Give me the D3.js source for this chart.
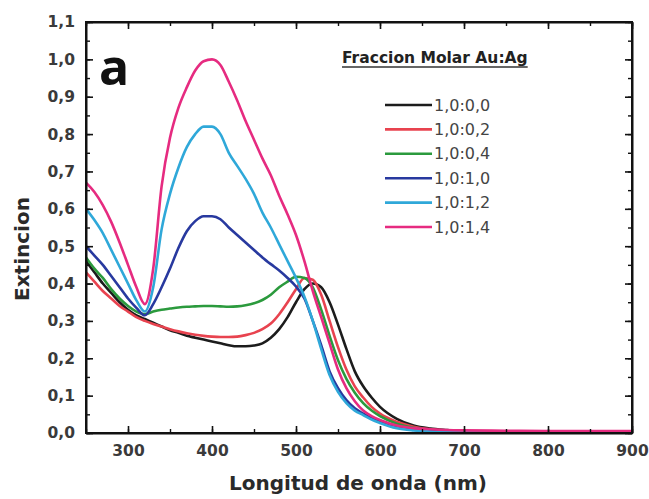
<!DOCTYPE html>
<html>
<head>
<meta charset="utf-8">
<script src="https://cdn.jsdelivr.net/npm/d3@7/dist/d3.min.js"></script>
<style>
  html, body { margin: 0; padding: 0; background: #fff; }
  svg { display: block; }
</style>
</head>
<body>
<svg id="chart" width="649" height="499"></svg>
<script>
// Wavelength grid (nm) shared by all spectra
const wavelength = [250, 260, 270, 280, 290, 300, 310, 320, 330, 340, 350, 360, 370, 380, 390, 400,
  410, 420, 430, 440, 450, 460, 470, 480, 490, 500, 510, 520, 530, 540, 550, 560, 570, 580, 590,
  600, 620, 640, 660, 680, 700, 750, 800, 850, 900];

// Extinction spectra for each Au:Ag molar fraction
const ext_1000 = [0.46, 0.43, 0.40, 0.375, 0.35, 0.33, 0.315, 0.305, 0.295, 0.285, 0.275, 0.268, 0.26, 0.255, 0.25, 0.245,
  0.24, 0.235, 0.232, 0.232, 0.234, 0.24, 0.255, 0.278, 0.31, 0.35, 0.385, 0.40, 0.39, 0.35, 0.29, 0.225, 0.165, 0.125, 0.095,
  0.07, 0.038, 0.02, 0.012, 0.008, 0.005, 0.003, 0.002, 0.002, 0.002];
const ext_1002 = [0.43, 0.405, 0.38, 0.36, 0.34, 0.325, 0.31, 0.30, 0.292, 0.285, 0.278, 0.272, 0.267, 0.263, 0.26, 0.258,
  0.257, 0.257, 0.258, 0.262, 0.268, 0.278, 0.293, 0.318, 0.35, 0.385, 0.415, 0.41, 0.37, 0.30, 0.23, 0.17, 0.125, 0.095, 0.07,
  0.052, 0.03, 0.017, 0.01, 0.007, 0.005, 0.003, 0.003, 0.003, 0.003];
const ext_1004 = [0.47, 0.44, 0.415, 0.385, 0.36, 0.34, 0.325, 0.318, 0.325, 0.33, 0.333, 0.336, 0.338, 0.339, 0.34, 0.34,
  0.339, 0.338, 0.339, 0.342, 0.347, 0.356, 0.37, 0.39, 0.405, 0.418, 0.415, 0.39, 0.33, 0.26, 0.195, 0.145, 0.108, 0.08, 0.06,
  0.045, 0.025, 0.014, 0.008, 0.005, 0.004, 0.003, 0.003, 0.003, 0.003];
const ext_1010 = [0.50, 0.475, 0.45, 0.42, 0.39, 0.36, 0.335, 0.315, 0.345, 0.39, 0.44, 0.495, 0.54, 0.567, 0.58, 0.58,
  0.572, 0.55, 0.53, 0.51, 0.49, 0.47, 0.452, 0.435, 0.415, 0.392, 0.36, 0.30, 0.235, 0.165, 0.12, 0.088, 0.066, 0.052, 0.04,
  0.03, 0.016, 0.009, 0.005, 0.004, 0.003, 0.002, 0.002, 0.002, 0.002];
const ext_1012 = [0.60, 0.57, 0.535, 0.49, 0.445, 0.40, 0.355, 0.325, 0.39, 0.545, 0.64, 0.71, 0.765, 0.80, 0.82, 0.82,
  0.80, 0.75, 0.715, 0.68, 0.64, 0.59, 0.55, 0.505, 0.46, 0.415, 0.365, 0.30, 0.225, 0.155, 0.11, 0.08, 0.06, 0.048, 0.036,
  0.027, 0.013, 0.007, 0.004, 0.003, 0.002, 0.002, 0.002, 0.002, 0.002];
const ext_1014 = [0.67, 0.645, 0.61, 0.565, 0.51, 0.45, 0.39, 0.345, 0.44, 0.66, 0.79, 0.87, 0.925, 0.97, 0.995, 1.0,
  0.985, 0.94, 0.89, 0.835, 0.785, 0.735, 0.69, 0.635, 0.585, 0.53, 0.46, 0.38, 0.31, 0.24, 0.17, 0.12, 0.085, 0.06, 0.045,
  0.035, 0.02, 0.013, 0.01, 0.008, 0.007, 0.006, 0.005, 0.005, 0.005];

const seriesNames = ["1,0:0,0", "1,0:0,2", "1,0:0,4", "1,0:1,0", "1,0:1,2", "1,0:1,4"];
const seriesValues = [ext_1000, ext_1002, ext_1004, ext_1010, ext_1012, ext_1014];
const seriesColors = ["#1c1c1c", "#e8434f", "#2b9a3d", "#28399f", "#2fa8d9", "#e62b80"];

const xTicks = [300, 400, 500, 600, 700, 800, 900];
const yTicks = [0.0, 0.1, 0.2, 0.3, 0.4, 0.5, 0.6, 0.7, 0.8, 0.9, 1.0, 1.1];

const legendTitle = "Fraccion Molar Au:Ag";
const panelLabel = "a";
const xTitle = "Longitud de onda (nm)";
const yTitle = "Extincion";

// ---- layout ----
const svg = d3.select("#chart");
const L = 86, R = 632, T = 22, B = 433;

const x = d3.scaleLinear().domain([250, 900]).range([L, R]);
const y = d3.scaleLinear().domain([0, 1.1]).range([B, T]);

const fmt = d => d3.format(".1f")(d).replace(".", ",");
const labelFont = "'DejaVu Sans', sans-serif";

// curves
const line = d3.line()
  .x(d => x(d[0]))
  .y(d => y(d[1]))
  .curve(d3.curveMonotoneX);

const plot = svg.append("g");
plot.append("defs").append("clipPath").attr("id", "clip")
  .append("rect").attr("x", L).attr("y", T).attr("width", R - L).attr("height", B - T);

const curves = plot.append("g").attr("clip-path", "url(#clip)");
seriesValues.forEach((vals, i) => {
  curves.append("path")
    .datum(wavelength.map((w, k) => [w, vals[k]]))
    .attr("d", line)
    .attr("fill", "none")
    .attr("stroke", seriesColors[i])
    .attr("stroke-width", 2.6)
    .attr("stroke-linejoin", "round");
});

// axes with inward ticks on all four sides
const xMinor = d3.range(250, 901, 50);
const yMinor = d3.range(0, 1.1001, 0.05);

function styleAxis(g) {
  g.selectAll("path.domain").attr("stroke", "#111").attr("stroke-width", 2);
  g.selectAll(".tick line").attr("stroke", "#111").attr("stroke-width", 1.6);
}

// minor ticks
const addMinor = (axisGen, transform) => {
  const g = svg.append("g").attr("transform", transform).call(axisGen);
  g.select("path.domain").remove();
  g.selectAll("text").remove();
  g.selectAll(".tick line").attr("stroke", "#111").attr("stroke-width", 1.4);
};
addMinor(d3.axisBottom(x).tickValues(xMinor).tickSize(-4), `translate(0,${B})`);
addMinor(d3.axisTop(x).tickValues(xMinor).tickSize(-4), `translate(0,${T})`);
addMinor(d3.axisLeft(y).tickValues(yMinor).tickSize(-4), `translate(${L},0)`);
addMinor(d3.axisRight(y).tickValues(yMinor).tickSize(-4), `translate(${R},0)`);

const xb = svg.append("g").attr("transform", `translate(0,${B})`)
  .call(d3.axisBottom(x).tickValues(xTicks).tickSize(-7).tickSizeOuter(0).tickPadding(12).tickFormat(d3.format("d")));
xb.call(styleAxis);
xb.selectAll("text").attr("font-family", labelFont).attr("font-weight", "bold")
  .attr("font-size", 15.5).attr("fill", "#3a3a3a");

const xt = svg.append("g").attr("transform", `translate(0,${T})`)
  .call(d3.axisTop(x).tickValues(xTicks).tickSize(-7).tickSizeOuter(0).tickFormat(""));
xt.call(styleAxis);

const yl = svg.append("g").attr("transform", `translate(${L},0)`)
  .call(d3.axisLeft(y).tickValues(yTicks).tickSize(-7).tickSizeOuter(0).tickPadding(11).tickFormat(fmt));
yl.call(styleAxis);
yl.selectAll("text").attr("font-family", labelFont).attr("font-weight", "bold")
  .attr("font-size", 15.5).attr("fill", "#3a3a3a");

const yr = svg.append("g").attr("transform", `translate(${R},0)`)
  .call(d3.axisRight(y).tickValues(yTicks).tickSize(-7).tickSizeOuter(0).tickFormat(""));
yr.call(styleAxis);

// frame
svg.append("rect").attr("x", L).attr("y", T).attr("width", R - L).attr("height", B - T)
  .attr("fill", "none").attr("stroke", "#111").attr("stroke-width", 2);

// titles
svg.append("text").attr("x", 358).attr("y", 490).attr("text-anchor", "middle")
  .attr("font-family", labelFont).attr("font-weight", "bold").attr("font-size", 20)
  .attr("fill", "#2a2a2a").text(xTitle);
svg.append("text").attr("transform", "translate(29,249) rotate(-90)").attr("text-anchor", "middle")
  .attr("font-family", labelFont).attr("font-weight", "bold").attr("font-size", 20)
  .attr("fill", "#2a2a2a").text(yTitle);

// panel letter
svg.append("text").attr("x", 99).attr("y", 85)
  .attr("font-family", "'Open Sans', sans-serif").attr("font-weight", 700).attr("font-size", 50)
  .attr("fill", "#111").text(panelLabel);

// legend
const lg = svg.append("g");
const titleText = lg.append("text").attr("x", 342).attr("y", 63)
  .attr("font-family", labelFont).attr("font-weight", "bold").attr("font-size", 15.5)
  .attr("fill", "#222").text(legendTitle);
const tw = titleText.node().getComputedTextLength();
lg.append("line").attr("x1", 342).attr("x2", 342 + tw).attr("y1", 67).attr("y2", 67)
  .attr("stroke", "#333").attr("stroke-width", 1.6);

const rowY = d3.scaleLinear().domain([0, 5]).range([105, 227]);
seriesNames.forEach((name, i) => {
  lg.append("line").attr("x1", 385).attr("x2", 432)
    .attr("y1", rowY(i)).attr("y2", rowY(i))
    .attr("stroke", seriesColors[i]).attr("stroke-width", 2.6);
  lg.append("text").attr("x", 434).attr("y", rowY(i) + 5.5)
    .attr("font-family", labelFont).attr("font-size", 16)
    .attr("fill", "#444").text(name);
});
</script>
</body>
</html>
